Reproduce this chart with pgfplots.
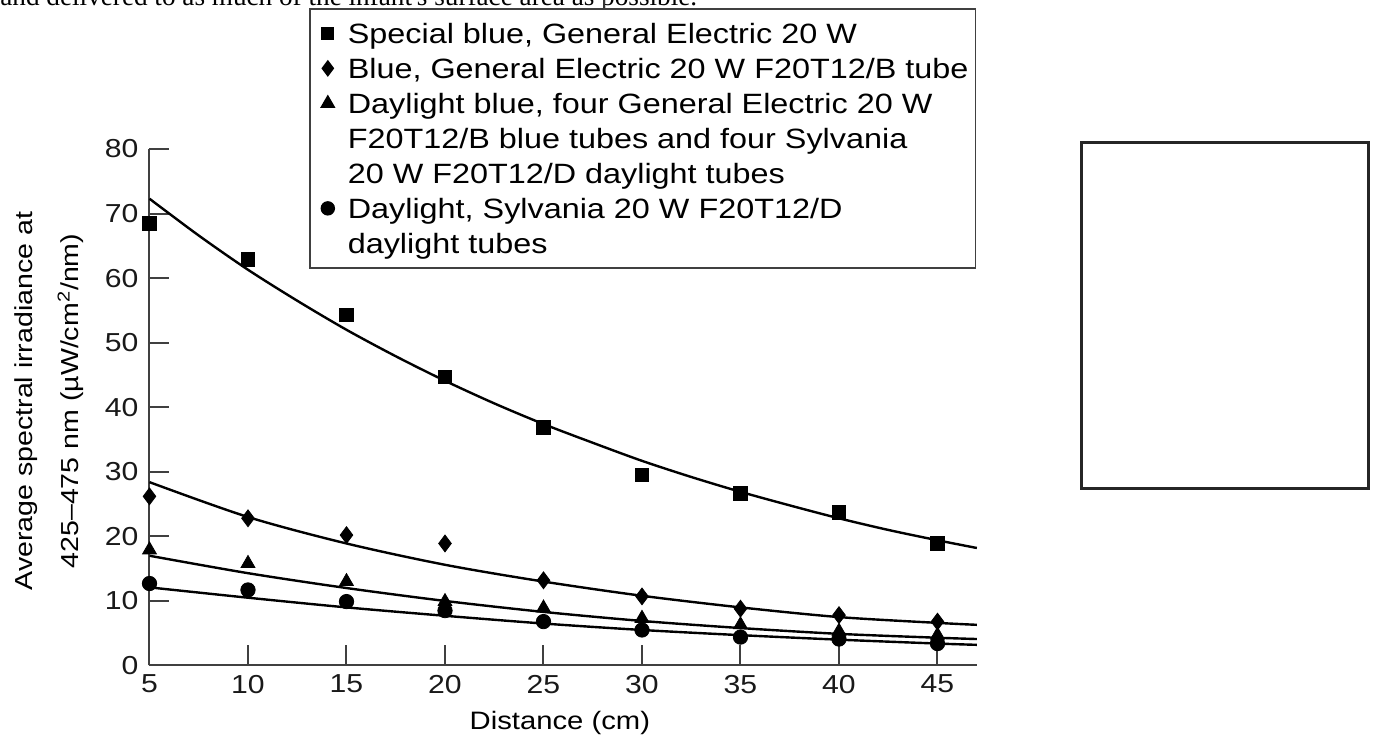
\documentclass[border=0pt]{standalone}
\usepackage{pgfplots}
\pgfplotsset{compat=1.18}
\usepackage{fontspec}
\setmainfont{Liberation Sans}[FakeStretch=1.16]
\newfontfamily\seriffont{Liberation Serif}
\newcommand{\legbox}{\pgfpathrectangle{\pgfpoint{-7.5pt}{-4pt}}{\pgfpoint{12pt}{8pt}}\pgfusepath{use as bounding box}}

\begin{document}
\begin{tikzpicture}
\useasboundingbox (0,0) rectangle (686.5pt,-371pt);
\node[anchor=base west, inner sep=0pt, font=\seriffont\fontsize{13.6}{16}\selectfont] at (0,-2.75pt) {and delivered to as much of the infant's surface area as possible.};
\draw[line width=0.8pt, black!80] (302pt,0) -- (302pt,-4.5pt);
\draw[line width=1.5pt, black!85] (540.5pt,-71.5pt) rectangle (684pt,-244.5pt);
\begin{axis}[
  at={(74.75pt,-332.75pt)}, anchor=south west,
  scale only axis, width=413.7pt, height=258.25pt,
  xmin=5, xmax=47, ymin=0, ymax=80,
  axis x line=bottom, axis y line=left,
  axis line style={-, line width=1pt, black!75},
  xtick={5,10,...,45}, ytick={0,10,...,80},
  tick align=inside, major tick length=10pt,
  tick style={line width=1pt, black!75},
  /pgf/number format/assume math mode=true,
  ticklabel style={font=\fontsize{13}{15}\selectfont, text=black!90},
  xticklabel style={yshift=-1.2pt},
  yticklabel style={xshift=-2pt},
  xlabel={Distance (cm)},
  xlabel style={at={(axis description cs:0.496,-0.111)}, anchor=center, font=\fontsize{12.6}{15}\selectfont},
  ylabel={Average spectral irradiance at\\425–475 nm (µW/cm\textsuperscript{2}/nm)},
  ylabel style={at={(axis description cs:-0.1215,0.512)}, anchor=center, align=center, font=\fontsize{12.3}{23}\selectfont},
  clip=false,
  legend style={at={(axis description cs:0.1928,1.2729)}, anchor=north west, draw=black!75, line width=0.8pt, fill=white, inner xsep=1.5pt, inner ysep=3.5pt, row sep=0pt, column sep=3.5pt, font=\fontsize{13.95}{17.5}\selectfont, cells={anchor=west, inner xsep=0pt, inner ysep=0pt, text height=12pt, text depth=5.5pt}},
]
% fitted curves
\addplot[black, line width=1.2pt, smooth, no markers, forget plot] coordinates {
(5,72.3) (7.5,66.6) (10,61.3) (12.5,56.5) (15,52.0) (17.5,47.9) (20,44.1) (22.5,40.6) (25,37.4) (27.5,34.5) (30,31.7) (32.5,29.2) (35,26.9) (37.5,24.8) (40,22.8) (42.5,21.0) (45,19.4) (47,18.2)};
\addplot[black, line width=1.2pt, smooth, no markers, forget plot] coordinates {
(5,28.4) (10,23.0) (15,18.9) (20,15.6) (25,13.0) (30,10.8) (35,9.0) (40,7.5) (45,6.6) (47,6.3)};
\addplot[black, line width=1.2pt, smooth, no markers, forget plot] coordinates {
(5,17.0) (10,14.3) (15,12.0) (20,10.0) (25,8.3) (30,6.9) (35,5.8) (40,4.9) (45,4.3) (47,4.1)};
\addplot[black, line width=1.2pt, smooth, no markers, forget plot] coordinates {
(5,12.1) (10,10.5) (15,9.0) (20,7.7) (25,6.5) (30,5.5) (35,4.7) (40,4.0) (45,3.4) (47,3.2)};
% data points
\addplot[black, only marks, mark=square*, mark size=3.4pt, legend image code/.code={\legbox\draw[mark size=2.8pt] plot coordinates {(0pt,0pt)};}] coordinates {
(5,68.5) (10,62.9) (15,54.3) (20,44.7) (25,36.9) (30,29.5) (35,26.7) (40,23.7) (45,18.9)};
\addlegendentry{Special blue, General Electric 20 W}
\addplot[black, only marks, mark=diamond*, mark size=4.2pt, legend image code/.code={\legbox\draw[mark size=3.6pt] plot coordinates {(0pt,0pt)};}] coordinates {
(5,26.2) (10,22.8) (15,20.2) (20,18.9) (25,13.2) (30,10.7) (35,8.8) (40,7.8) (45,6.8)};
\addlegendentry{Blue, General Electric 20 W F20T12/B tube}
\addplot[black, only marks, mark=triangle*, mark size=4pt, legend image code/.code={\legbox\draw[mark size=3.6pt] plot coordinates {(0pt,0pt)};}] coordinates {
(5,17.9) (10,15.8) (15,13.0) (20,9.9) (25,8.9) (30,7.3) (35,6.3) (40,5.3) (45,4.7)};
\addlegendentry{Daylight blue, four General Electric 20 W}
\addlegendimage{empty legend}
\addlegendentry{F20T12/B blue tubes and four Sylvania}
\addlegendimage{empty legend}
\addlegendentry{20 W F20T12/D daylight tubes}
\addplot[black, only marks, mark=*, mark size=3.6pt, legend image code/.code={\legbox\draw[mark size=3.2pt] plot coordinates {(0pt,0pt)};}] coordinates {
(5,12.7) (10,11.7) (15,9.9) (20,8.5) (25,6.8) (30,5.5) (35,4.4) (40,4.1) (45,3.4)};
\addlegendentry{Daylight, Sylvania 20 W F20T12/D}
\addlegendimage{empty legend}
\addlegendentry{daylight tubes}
\end{axis}
\end{tikzpicture}
\end{document}
